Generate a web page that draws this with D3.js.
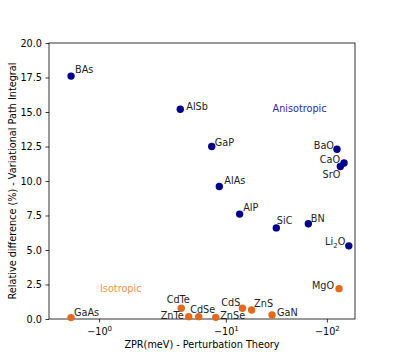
<!DOCTYPE html>
<html>
<head>
<meta charset="utf-8">
<script src="https://cdn.jsdelivr.net/npm/d3@7"></script>
<style>
  body { margin: 0; background: #fff; }
  text { font-family: "DejaVu Sans", sans-serif; }
</style>
</head>
<body>
<div id="chart"></div>
<script>
// values
var materials = ["BAs", "AlSb", "GaP", "BaO", "CaO", "SrO", "AlAs", "AlP", "SiC", "BN", "Li2O",
                 "GaAs", "CdTe", "ZnTe", "CdSe", "ZnSe", "CdS", "ZnS", "GaN", "MgO"];
var zpr = [-0.5, -3.54, -7.25, -126, -148, -136, -8.62, -13.7, -31.6, -65.6, -165,
           -0.5, -3.62, -4.29, -5.39, -7.94, -14.6, -18.0, -28.7, -132];
var reldiff = [17.6, 15.2, 12.5, 12.3, 11.3, 11.05, 9.6, 7.6, 6.6, 6.9, 5.3,
               0.1, 0.78, 0.17, 0.17, 0.12, 0.78, 0.65, 0.29, 2.2];
var group = ["aniso", "aniso", "aniso", "aniso", "aniso", "aniso", "aniso", "aniso", "aniso", "aniso", "aniso",
             "iso", "iso", "iso", "iso", "iso", "iso", "iso", "iso", "iso"];
var xTicks = [-1, -10, -100];
var yTicks = [0, 2.5, 5, 7.5, 10, 12.5, 15, 17.5, 20];

// label placement (dx, dy of baseline, anchor)
var labelPos = {
  BAs: [4, -3, "start"], AlSb: [6, 1, "start"], GaP: [3, -1, "start"],
  BaO: [-3, 0, "end"], CaO: [-4, 0, "end"], SrO: [0, 11.5, "end"],
  AlAs: [5, -3, "start"], AlP: [3.5, -3, "start"], SiC: [0.5, -3.5, "start"],
  BN: [2.5, -2, "start"], Li2O: [-3.5, -0.5, "end"],
  GaAs: [3, -2, "start"], CdTe: [-3, -5, "middle"], ZnTe: [-5, 2.5, "end"],
  CdSe: [4, -3.5, "middle"], ZnSe: [4.5, 2, "start"], CdS: [-2, -2.5, "end"],
  ZnS: [2.5, -3.5, "start"], GaN: [5, 1.5, "start"], MgO: [-5, 0.5, "end"]
};

var colors = { aniso: "#00008b", iso: "#e2691e" };

var width = 395, height = 359;
var margin = { left: 49, right: 40, top: 43, bottom: 40 };

// matplotlib style symlog, linthresh 2
var linthresh = 2, linscale = 1 / (1 - 1 / 10);
function T(v) {
  var a = Math.abs(v), s = v < 0 ? -1 : 1;
  if (a <= linthresh) return s * a * linscale;
  return s * linthresh * (linscale + Math.log10(a / linthresh));
}

var xLin = d3.scaleLinear()
  .domain([T(-0.107), T(-190)])
  .range([margin.left, width - margin.right]);
var x = function (v) { return xLin(T(v)); };

var y = d3.scaleLinear()
  .domain([0, 20])
  .range([height - margin.bottom, margin.top]);

var svg = d3.select("#chart").append("svg")
  .attr("width", width)
  .attr("height", height);

var data = materials.map(function (m, i) {
  return { name: m, zpr: zpr[i], rel: reldiff[i], group: group[i] };
});

// y axis
var yAxis = svg.append("g")
  .attr("transform", "translate(" + margin.left + ",0)")
  .call(d3.axisLeft(y).tickValues(yTicks).tickFormat(d3.format(".1f")).tickSize(3.5).tickPadding(3.5));

// x axis
var xAxis = svg.append("g")
  .attr("transform", "translate(0," + (height - margin.bottom) + ")")
  .call(d3.axisBottom(xLin).tickValues(xTicks.map(T)).tickFormat("").tickSize(3.5));

xAxis.selectAll(".tick").each(function (d, i) {
  var exp = Math.round(Math.log10(Math.abs(xTicks[i])));
  var t = d3.select(this).append("text")
    .attr("y", 16)
    .attr("fill", "#000")
    .attr("text-anchor", "middle")
    .style("font-size", "9.7px");
  t.append("tspan").text("\u221210");
  t.append("tspan").attr("dy", -4).style("font-size", "7px").text(exp);
});

[yAxis, xAxis].forEach(function (g) {
  g.select(".domain").remove();
  g.selectAll(".tick line").attr("stroke", "#000").attr("stroke-width", 0.8);
  g.selectAll(".tick text").style("font-size", "9.7px").attr("fill", "#000");
});

// frame
svg.append("rect")
  .attr("x", margin.left)
  .attr("y", margin.top)
  .attr("width", width - margin.left - margin.right)
  .attr("height", height - margin.top - margin.bottom)
  .attr("fill", "none")
  .attr("stroke", "#000")
  .attr("stroke-width", 0.8);

// points
svg.selectAll("circle.pt")
  .data(data)
  .enter()
  .append("circle")
  .attr("class", "pt")
  .attr("cx", function (d) { return x(d.zpr); })
  .attr("cy", function (d) { return y(d.rel); })
  .attr("r", 3.7)
  .attr("fill", function (d) { return colors[d.group]; });

// point labels
var labels = svg.selectAll("text.lbl")
  .data(data)
  .enter()
  .append("text")
  .attr("class", "lbl")
  .attr("x", function (d) { return x(d.zpr) + labelPos[d.name][0]; })
  .attr("y", function (d) { return y(d.rel) + labelPos[d.name][1]; })
  .attr("text-anchor", function (d) { return labelPos[d.name][2]; })
  .style("font-size", "9.7px")
  .attr("fill", "#222");

labels.each(function (d) {
  var t = d3.select(this);
  if (d.name === "Li2O") {
    t.append("tspan").text("Li");
    t.append("tspan").attr("dy", 2.5).style("font-size", "7px").text("2");
    t.append("tspan").attr("dy", -2.5).text("O");
  } else {
    t.text(d.name);
  }
});

// group annotations
svg.append("text")
  .attr("x", 272.5).attr("y", 112)
  .style("font-size", "9.7px")
  .attr("fill", "#2a2aa0")
  .text("Anisotropic");

svg.append("text")
  .attr("x", 100).attr("y", 292)
  .style("font-size", "9.7px")
  .attr("fill", "#e8924f")
  .text("Isotropic");

// axis titles
svg.append("text")
  .attr("x", (margin.left + width - margin.right) / 2)
  .attr("y", 348)
  .attr("text-anchor", "middle")
  .style("font-size", "9.7px")
  .text("ZPR(meV) - Perturbation Theory");

svg.append("text")
  .attr("transform", "translate(16," + (margin.top + (height - margin.top - margin.bottom) / 2) + ") rotate(-90)")
  .attr("text-anchor", "middle")
  .style("font-size", "9.7px")
  .text("Relative difference (%) - Variational Path Integral");
</script>
</body>
</html>
